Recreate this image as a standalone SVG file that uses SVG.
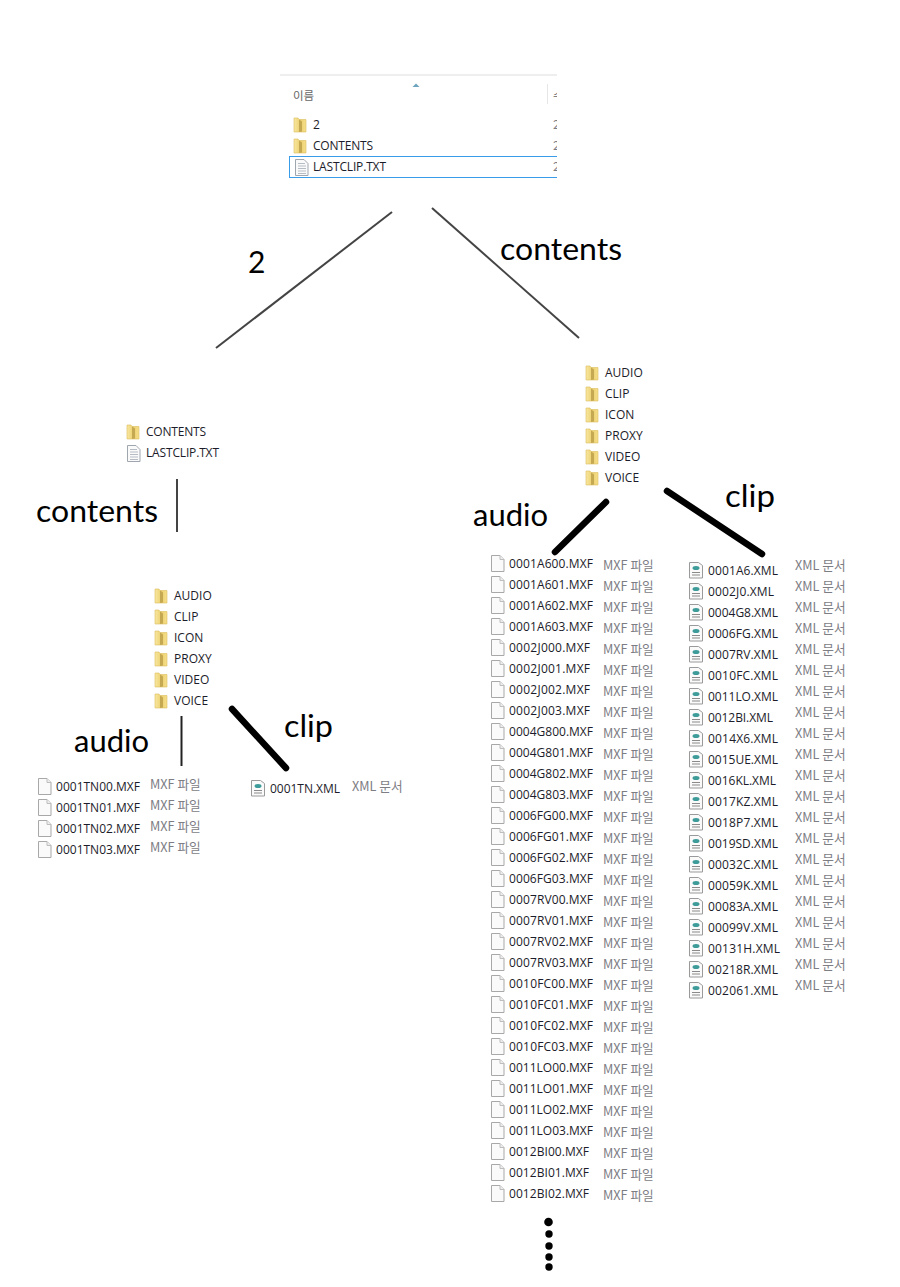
<svg xmlns="http://www.w3.org/2000/svg" width="900" height="1287" viewBox="0 0 900 1287">
<style>
text{font-family:"Open Sans","Noto Sans",sans-serif}
.n{font-size:12px;fill:#1c1c2a}
.t{font-size:12.700px;fill:#7d7d84;font-family:"Noto Sans CJK KR","Noto Sans",sans-serif}
.h{font-family:"Lato","DejaVu Sans",sans-serif;fill:#000}
.thin{stroke:#444;stroke-width:2;fill:none}
.thick{stroke:#000;stroke-width:6.5;stroke-linecap:round;fill:none}
</style>
<defs>
<linearGradient id="fg" x1="0" x2="1" y1="0" y2="0"><stop offset="0" stop-color="#f8e7a0"/><stop offset=".55" stop-color="#eccf6c"/><stop offset="1" stop-color="#f6e08e"/></linearGradient>
<g id="folder"><path d="M0-7h4l1 1.500h7v12.500H0z" fill="url(#fg)" stroke="#dcbd5c" stroke-width=".6"/><path d="M5-5.500l3 2v10l-3 .5z" fill="#c4a852"/></g>
<g id="doc"><path d="M.5-7.500h8.500l4 4v12H.5z" fill="#fafafa" stroke="#a8a8a8"/><path d="M9-7.500v4h4" fill="#eee" stroke="#bdbdbd"/></g>
<g id="txt"><path d="M.5-7.500h8.500l4 4v12H.5z" fill="#fafafa" stroke="#a0a6ae"/><path d="M3-3.500h7M3-1h8M3 1.500h8M3 4h8M3 6.500h8" stroke="#b6bcc4"/></g>
<g id="xml"><path d="M.5-7.500h9l4 3v12.500H.5z" fill="#fafafa" stroke="#9a9a9a"/><ellipse cx="7" cy="-2" rx="3.500" ry="2" fill="#3d9c9a"/><path d="M3 2.500h8M3 5h8" stroke="#8a8a8a"/></g>
<clipPath id="hc"><rect x="280" y="70" width="277" height="115"/></clipPath>
</defs>

<g id="connectors">
<path class="thin" d="M392 212 216 348"/>
<path class="thin" d="M432 208 579 338"/>
<path class="thin" d="M177 479V532"/>
<path class="thin" d="M181.500 716V766" style="stroke:#222"/>
<path class="thick" d="M232 709 286 768"/>
<path class="thick" d="M606 502 555 552"/>
<path class="thick" d="M667 491 762 554"/>
</g>

<g id="root-listing" clip-path="url(#hc)">
<path d="M280 75H557" stroke="#ddd"/>
<path d="M412.500 87l3.500-3.500 3.500 3.500z" fill="#6ea3bd"/>
<path d="M547.500 84V104" stroke="#e6e6e6"/>
<text class="t" x="293" y="100" style="font-size:11.500px;fill:#666">이름</text>
<text class="t" x="553" y="100" style="font-size:11.500px;fill:#666">수</text>
<rect x="289.500" y="156.500" width="280" height="21" fill="none" stroke="#3a9be8"/>
<use href="#folder" x="294" y="125"/><text class="n" x="313" y="129">2</text>
<use href="#folder" x="294" y="146"/><text class="n" x="313" y="150" textLength="60">CONTENTS</text>
<use href="#txt" x="295" y="167"/><text class="n" x="313" y="171" textLength="73">LASTCLIP.TXT</text>
<text class="t" x="553" y="129">2</text><text class="t" x="553" y="150">2</text><text class="t" x="553" y="171">2</text>
</g>

<g id="label-2"><text class="h" x="248" y="273" font-size="30">2</text></g>
<g id="label-contents-right"><text class="h" x="500" y="260" font-size="30" textLength="122" lengthAdjust="spacingAndGlyphs">contents</text></g>
<g id="label-contents-left"><text class="h" x="36" y="522" font-size="30" textLength="122" lengthAdjust="spacingAndGlyphs">contents</text></g>
<g id="label-audio-right"><text class="h" x="473" y="526" font-size="30" textLength="75" lengthAdjust="spacingAndGlyphs">audio</text></g>
<g id="label-clip-right"><text class="h" x="725" y="507" font-size="30" textLength="50" lengthAdjust="spacingAndGlyphs">clip</text></g>
<g id="label-audio-left"><text class="h" x="74" y="752" font-size="30" textLength="75" lengthAdjust="spacingAndGlyphs">audio</text></g>
<g id="label-clip-left"><text class="h" x="284" y="737" font-size="30" textLength="49" lengthAdjust="spacingAndGlyphs">clip</text></g>

<g id="folder-2" transform="translate(0 1)">
<use href="#folder" x="127" y="431"/><text class="n" x="146" y="435" textLength="60">CONTENTS</text>
<use href="#txt" x="127" y="452"/><text class="n" x="146" y="456" textLength="73">LASTCLIP.TXT</text>
</g>

<g id="contents-left" transform="translate(0 1)">
<use href="#folder" x="155" y="595"/><text class="n" x="174" y="599">AUDIO</text>
<use href="#folder" x="155" y="616"/><text class="n" x="174" y="620">CLIP</text>
<use href="#folder" x="155" y="637"/><text class="n" x="174" y="641">ICON</text>
<use href="#folder" x="155" y="658"/><text class="n" x="174" y="662">PROXY</text>
<use href="#folder" x="155" y="679"/><text class="n" x="174" y="683">VIDEO</text>
<use href="#folder" x="155" y="700"/><text class="n" x="174" y="704">VOICE</text>
</g>

<g id="contents-right" transform="translate(0 1)">
<use href="#folder" x="586" y="372"/><text class="n" x="605" y="376">AUDIO</text>
<use href="#folder" x="586" y="393"/><text class="n" x="605" y="397">CLIP</text>
<use href="#folder" x="586" y="414"/><text class="n" x="605" y="418">ICON</text>
<use href="#folder" x="586" y="435"/><text class="n" x="605" y="439">PROXY</text>
<use href="#folder" x="586" y="456"/><text class="n" x="605" y="460">VIDEO</text>
<use href="#folder" x="586" y="477"/><text class="n" x="605" y="481">VOICE</text>
</g>

<g id="audio-left">
<use href="#doc" x="38" y="786"/><text class="n" x="56" y="791" textLength="84">0001TN00.MXF</text><text class="t" x="150" y="789">MXF 파일</text>
<use href="#doc" x="38" y="807"/><text class="n" x="56" y="812" textLength="84">0001TN01.MXF</text><text class="t" x="150" y="810">MXF 파일</text>
<use href="#doc" x="38" y="828"/><text class="n" x="56" y="833" textLength="84">0001TN02.MXF</text><text class="t" x="150" y="831">MXF 파일</text>
<use href="#doc" x="38" y="849"/><text class="n" x="56" y="854" textLength="84">0001TN03.MXF</text><text class="t" x="150" y="852">MXF 파일</text>
</g>

<g id="clip-left">
<use href="#xml" x="251" y="788"/><text class="n" x="270" y="793" textLength="70">0001TN.XML</text><text class="t" x="352" y="791">XML 문서</text>
</g>

<g id="audio-right">
<use href="#doc" x="491" y="563"/><text class="n" x="509" y="568" textLength="84">0001A600.MXF</text><text class="t" x="603" y="570">MXF 파일</text>
<use href="#doc" x="491" y="584"/><text class="n" x="509" y="589" textLength="84">0001A601.MXF</text><text class="t" x="603" y="591">MXF 파일</text>
<use href="#doc" x="491" y="605"/><text class="n" x="509" y="610" textLength="84">0001A602.MXF</text><text class="t" x="603" y="612">MXF 파일</text>
<use href="#doc" x="491" y="626"/><text class="n" x="509" y="631" textLength="84">0001A603.MXF</text><text class="t" x="603" y="633">MXF 파일</text>
<use href="#doc" x="491" y="647"/><text class="n" x="509" y="652" textLength="81">0002J000.MXF</text><text class="t" x="603" y="654">MXF 파일</text>
<use href="#doc" x="491" y="668"/><text class="n" x="509" y="673" textLength="81">0002J001.MXF</text><text class="t" x="603" y="675">MXF 파일</text>
<use href="#doc" x="491" y="689"/><text class="n" x="509" y="694" textLength="81">0002J002.MXF</text><text class="t" x="603" y="696">MXF 파일</text>
<use href="#doc" x="491" y="710"/><text class="n" x="509" y="715" textLength="81">0002J003.MXF</text><text class="t" x="603" y="717">MXF 파일</text>
<use href="#doc" x="491" y="731"/><text class="n" x="509" y="736" textLength="84">0004G800.MXF</text><text class="t" x="603" y="738">MXF 파일</text>
<use href="#doc" x="491" y="752"/><text class="n" x="509" y="757" textLength="84">0004G801.MXF</text><text class="t" x="603" y="759">MXF 파일</text>
<use href="#doc" x="491" y="773"/><text class="n" x="509" y="778" textLength="84">0004G802.MXF</text><text class="t" x="603" y="780">MXF 파일</text>
<use href="#doc" x="491" y="794"/><text class="n" x="509" y="799" textLength="84">0004G803.MXF</text><text class="t" x="603" y="801">MXF 파일</text>
<use href="#doc" x="491" y="815"/><text class="n" x="509" y="820" textLength="84">0006FG00.MXF</text><text class="t" x="603" y="822">MXF 파일</text>
<use href="#doc" x="491" y="836"/><text class="n" x="509" y="841" textLength="84">0006FG01.MXF</text><text class="t" x="603" y="843">MXF 파일</text>
<use href="#doc" x="491" y="857"/><text class="n" x="509" y="862" textLength="84">0006FG02.MXF</text><text class="t" x="603" y="864">MXF 파일</text>
<use href="#doc" x="491" y="878"/><text class="n" x="509" y="883" textLength="84">0006FG03.MXF</text><text class="t" x="603" y="885">MXF 파일</text>
<use href="#doc" x="491" y="899"/><text class="n" x="509" y="904" textLength="84">0007RV00.MXF</text><text class="t" x="603" y="906">MXF 파일</text>
<use href="#doc" x="491" y="920"/><text class="n" x="509" y="925" textLength="84">0007RV01.MXF</text><text class="t" x="603" y="927">MXF 파일</text>
<use href="#doc" x="491" y="941"/><text class="n" x="509" y="946" textLength="84">0007RV02.MXF</text><text class="t" x="603" y="948">MXF 파일</text>
<use href="#doc" x="491" y="962"/><text class="n" x="509" y="967" textLength="84">0007RV03.MXF</text><text class="t" x="603" y="969">MXF 파일</text>
<use href="#doc" x="491" y="983"/><text class="n" x="509" y="988" textLength="84">0010FC00.MXF</text><text class="t" x="603" y="990">MXF 파일</text>
<use href="#doc" x="491" y="1004"/><text class="n" x="509" y="1009" textLength="84">0010FC01.MXF</text><text class="t" x="603" y="1011">MXF 파일</text>
<use href="#doc" x="491" y="1025"/><text class="n" x="509" y="1030" textLength="84">0010FC02.MXF</text><text class="t" x="603" y="1032">MXF 파일</text>
<use href="#doc" x="491" y="1046"/><text class="n" x="509" y="1051" textLength="84">0010FC03.MXF</text><text class="t" x="603" y="1053">MXF 파일</text>
<use href="#doc" x="491" y="1067"/><text class="n" x="509" y="1072" textLength="84">0011LO00.MXF</text><text class="t" x="603" y="1074">MXF 파일</text>
<use href="#doc" x="491" y="1088"/><text class="n" x="509" y="1093" textLength="84">0011LO01.MXF</text><text class="t" x="603" y="1095">MXF 파일</text>
<use href="#doc" x="491" y="1109"/><text class="n" x="509" y="1114" textLength="84">0011LO02.MXF</text><text class="t" x="603" y="1116">MXF 파일</text>
<use href="#doc" x="491" y="1130"/><text class="n" x="509" y="1135" textLength="84">0011LO03.MXF</text><text class="t" x="603" y="1137">MXF 파일</text>
<use href="#doc" x="491" y="1151"/><text class="n" x="509" y="1156" textLength="80">0012BI00.MXF</text><text class="t" x="603" y="1158">MXF 파일</text>
<use href="#doc" x="491" y="1172"/><text class="n" x="509" y="1177" textLength="80">0012BI01.MXF</text><text class="t" x="603" y="1179">MXF 파일</text>
<use href="#doc" x="491" y="1193"/><text class="n" x="509" y="1198" textLength="80">0012BI02.MXF</text><text class="t" x="603" y="1200">MXF 파일</text>
</g>

<g id="clip-right">
<use href="#xml" x="689" y="570"/><text class="n" x="708" y="575" textLength="70">0001A6.XML</text><text class="t" x="795" y="570">XML 문서</text>
<use href="#xml" x="689" y="591"/><text class="n" x="708" y="596" textLength="66">0002J0.XML</text><text class="t" x="795" y="591">XML 문서</text>
<use href="#xml" x="689" y="612"/><text class="n" x="708" y="617" textLength="70">0004G8.XML</text><text class="t" x="795" y="612">XML 문서</text>
<use href="#xml" x="689" y="633"/><text class="n" x="708" y="638" textLength="70">0006FG.XML</text><text class="t" x="795" y="633">XML 문서</text>
<use href="#xml" x="689" y="654"/><text class="n" x="708" y="659" textLength="70">0007RV.XML</text><text class="t" x="795" y="654">XML 문서</text>
<use href="#xml" x="689" y="675"/><text class="n" x="708" y="680" textLength="70">0010FC.XML</text><text class="t" x="795" y="675">XML 문서</text>
<use href="#xml" x="689" y="696"/><text class="n" x="708" y="701" textLength="70">0011LO.XML</text><text class="t" x="795" y="696">XML 문서</text>
<use href="#xml" x="689" y="717"/><text class="n" x="708" y="722" textLength="65">0012BI.XML</text><text class="t" x="795" y="717">XML 문서</text>
<use href="#xml" x="689" y="738"/><text class="n" x="708" y="743" textLength="70">0014X6.XML</text><text class="t" x="795" y="738">XML 문서</text>
<use href="#xml" x="689" y="759"/><text class="n" x="708" y="764" textLength="70">0015UE.XML</text><text class="t" x="795" y="759">XML 문서</text>
<use href="#xml" x="689" y="780"/><text class="n" x="708" y="785" textLength="68">0016KL.XML</text><text class="t" x="795" y="780">XML 문서</text>
<use href="#xml" x="689" y="801"/><text class="n" x="708" y="806" textLength="70">0017KZ.XML</text><text class="t" x="795" y="801">XML 문서</text>
<use href="#xml" x="689" y="822"/><text class="n" x="708" y="827" textLength="70">0018P7.XML</text><text class="t" x="795" y="822">XML 문서</text>
<use href="#xml" x="689" y="843"/><text class="n" x="708" y="848" textLength="70">0019SD.XML</text><text class="t" x="795" y="843">XML 문서</text>
<use href="#xml" x="689" y="864"/><text class="n" x="708" y="869" textLength="70">00032C.XML</text><text class="t" x="795" y="864">XML 문서</text>
<use href="#xml" x="689" y="885"/><text class="n" x="708" y="890" textLength="70">00059K.XML</text><text class="t" x="795" y="885">XML 문서</text>
<use href="#xml" x="689" y="906"/><text class="n" x="708" y="911" textLength="70">00083A.XML</text><text class="t" x="795" y="906">XML 문서</text>
<use href="#xml" x="689" y="927"/><text class="n" x="708" y="932" textLength="70">00099V.XML</text><text class="t" x="795" y="927">XML 문서</text>
<use href="#xml" x="689" y="948"/><text class="n" x="708" y="953" textLength="72">00131H.XML</text><text class="t" x="795" y="948">XML 문서</text>
<use href="#xml" x="689" y="969"/><text class="n" x="708" y="974" textLength="70">00218R.XML</text><text class="t" x="795" y="969">XML 문서</text>
<use href="#xml" x="689" y="990"/><text class="n" x="708" y="995" textLength="70">002061.XML</text><text class="t" x="795" y="990">XML 문서</text>
</g>

<g id="more-dots" fill="#000">
<circle cx="548.500" cy="1222" r="4.300"/>
<circle cx="549" cy="1234" r="3.700"/>
<circle cx="549" cy="1246" r="3.700"/>
<circle cx="549" cy="1257" r="3.700"/>
<circle cx="549" cy="1267" r="3.700"/>
</g>
</svg>
